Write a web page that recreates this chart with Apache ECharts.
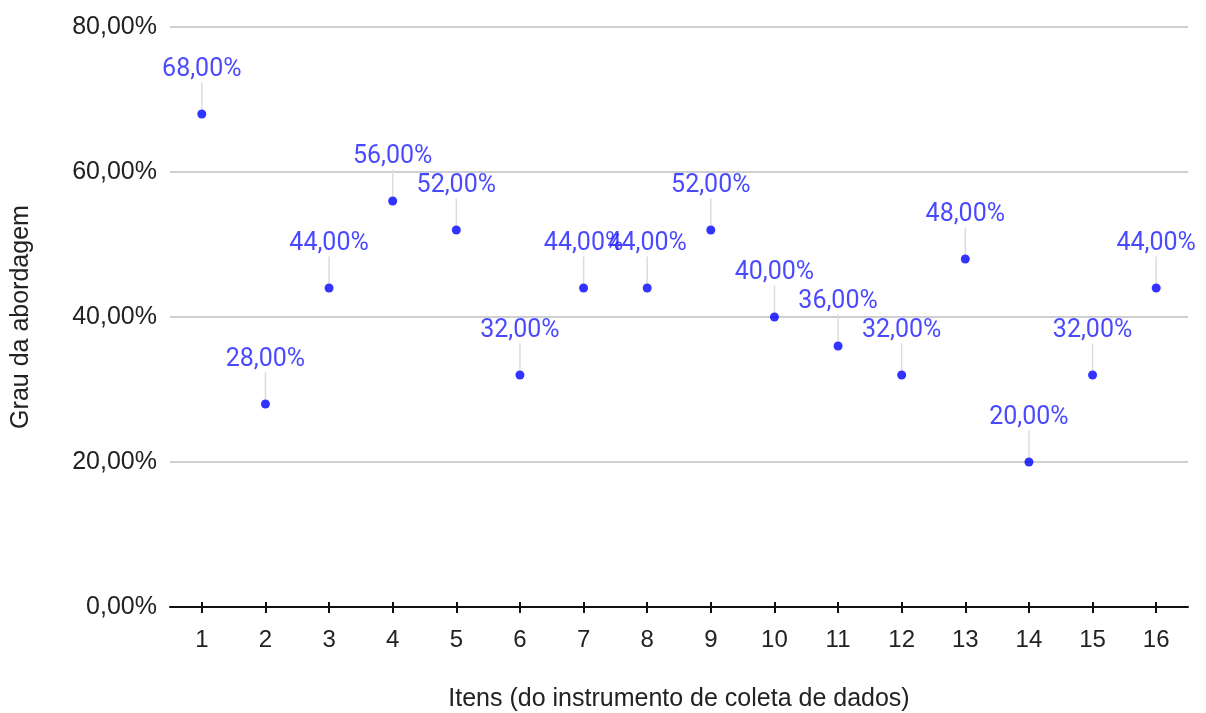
<!DOCTYPE html>
<html>
<head>
<meta charset="utf-8">
<script src="https://cdn.jsdelivr.net/npm/echarts@6/dist/echarts.min.js"></script>
<style>
	html, body { margin: 0; padding: 0; background: #fff; }
	#chart { width: 1206px; height: 713px; }
</style>
</head>
<body>
<div id="chart"></div>
<script>
	const itens = ["1", "2", "3", "4", "5", "6", "7", "8", "9", "10", "11", "12", "13", "14", "15", "16"]
	const grau = [68, 28, 44, 56, 52, 32, 44, 44, 52, 40, 36, 32, 48, 20, 32, 44]
	const yTicks = [0, 20, 40, 60, 80]

	// 68 -> "68,00%"
	function pct(v) {
		return v.toFixed(2).replace(".", ",") + "%"
	}

	const axisFont = "Liberation Sans, Arial, sans-serif"

	const chart = echarts.init(document.getElementById("chart"))
	chart.setOption({
		animation: false,
		grid: { left: 170, right: 18, top: 27, bottom: 106, outerBoundsMode: "none", containLabel: false },
		xAxis: [
			{
				type: "category",
				data: itens,
				boundaryGap: true,
				name: "Itens (do instrumento de coleta de dados)",
				nameLocation: "middle",
				nameGap: 80,
				nameTextStyle: { fontSize: 25, color: "#222", fontFamily: axisFont },
				axisLine: { lineStyle: { color: "#111", width: 2 } },
				axisTick: { show: true, interval: 0, alignWithLabel: true, length: 6, lineStyle: { color: "#111", width: 2 } },
				axisLabel: { fontSize: 24, color: "#222", margin: 21, fontFamily: axisFont },
				splitLine: { show: false }
			},
			{
				// only the upper half of the crossing ticks
				type: "category",
				data: itens,
				position: "bottom",
				boundaryGap: true,
				axisLine: { show: false },
				axisTick: { show: true, interval: 0, inside: true, alignWithLabel: true, length: 5, lineStyle: { color: "#111", width: 2 } },
				axisLabel: { show: false },
				splitLine: { show: false }
			}
		],
		yAxis: {
			type: "value",
			min: yTicks[0],
			max: yTicks[yTicks.length - 1],
			interval: 20,
			name: "Grau da abordagem",
			nameLocation: "middle",
			nameGap: 136,
			nameTextStyle: { fontSize: 25, color: "#222", fontFamily: axisFont },
			axisLine: { show: false },
			axisTick: { show: false },
			axisLabel: { fontSize: 25, color: "#222", margin: 13, formatter: pct, fontFamily: axisFont },
			splitLine: { lineStyle: { color: "#cfcfcf", width: 2 } }
		},
		series: [
			{
				type: "scatter",
				data: grau,
				symbolSize: 9,
				itemStyle: { color: "#0000ff" },
				label: {
					show: true,
					position: "inside",
					formatter: p => pct(p.value),
					fontSize: 25,
					fontFamily: "Roboto, sans-serif",
					color: "#1a1aff"
				},
				labelLayout: { dy: -44 },
				labelLine: {
					show: true,
					lineStyle: { color: "#dcdcdc", width: 1.5 }
				}
			}
		]
	})
</script>
</body>
</html>
